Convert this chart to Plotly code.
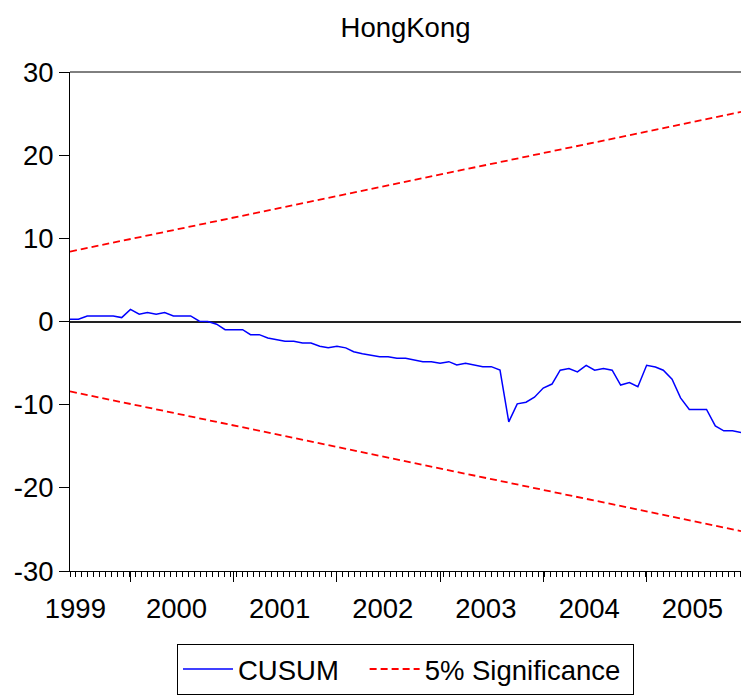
import pandas as pd
import plotly.graph_objects as go

# Monthly CUSUM statistic, June 1999 - December 2005
months = pd.date_range("1999-06-01", periods=79, freq="MS")
cusum = [
    0.27, 0.27, 0.67, 0.67, 0.67, 0.67, 0.47, 1.46, 0.87, 1.07,
    0.87, 1.07, 0.67, 0.67, 0.67, 0.03, 0.00, -0.32, -0.99, -0.99,
    -0.99, -1.58, -1.58, -1.98, -2.17, -2.38, -2.38, -2.58, -2.58, -2.97,
    -3.17, -2.97, -3.17, -3.64, -3.88, -4.08, -4.24, -4.24, -4.43, -4.43,
    -4.63, -4.83, -4.83, -5.03, -4.83, -5.23, -5.03, -5.23, -5.43, -5.43,
    -5.84, -12.07, -9.90, -9.70, -9.10, -8.00, -7.52, -5.86, -5.66, -6.06,
    -5.27, -5.86, -5.66, -5.86, -7.64, -7.33, -7.84, -5.27, -5.47, -5.86,
    -6.94, -9.19, -10.57, -10.57, -10.57, -12.55, -13.14, -13.14, -13.34,
]

# 5% significance bounds (straight lines between the first and last month)
band_dates = [months[0], months[-1]]
upper_band = [8.4, 25.2]
lower_band = [-8.4, -25.2]

# Axis labelling
year_labels = ["1999", "2000", "2001", "2002", "2003", "2004", "2005"]
year_label_dates = ["1999-06-20", "2000-06-12", "2001-06-12", "2002-06-12",
                    "2003-06-12", "2004-06-12", "2005-06-12"]
year_start_dates = ["2000-01-01", "2001-01-01", "2002-01-01",
                    "2003-01-01", "2004-01-01", "2005-01-01"]
small_tick_dates = pd.date_range("1999-06-01", "2005-12-01", freq="21D")
y_ticks = [-30, -20, -10, 0, 10, 20, 30]
y_labels = ["-30", "-20", "-10", "0", "10", "20", "30"]

FONT = "Liberation Sans, Arial, sans-serif"
FS = 27.5
x_range = ["1999-06-01", "2005-12-01"]
NBSP = "\u00a0"

fig = go.Figure()
fig.add_trace(go.Scatter(
    x=months, y=cusum, mode="lines", name="CUSUM" + NBSP * 2 + "\u2009",
    line=dict(color="#0000FF", width=1.5),
))
fig.add_trace(go.Scatter(
    x=band_dates, y=upper_band, mode="lines", name="5% Significance" + NBSP,
    line=dict(color="#FF0000", width=1.8, dash="7px,4px"),
))
fig.add_trace(go.Scatter(
    x=band_dates, y=lower_band, mode="lines", name="5% Significance",
    line=dict(color="#FF0000", width=1.8, dash="7px,4px"), showlegend=False,
))
# carrier for the secondary tick axis
fig.add_trace(go.Scatter(
    x=band_dates, y=[None, None], xaxis="x2", mode="lines",
    showlegend=False, hoverinfo="skip",
))

fig.update_layout(
    width=741, height=695,
    margin=dict(l=70, r=0, t=72, b=118),
    paper_bgcolor="white", plot_bgcolor="white",
    font=dict(family=FONT, size=FS, color="black"),
    title=dict(text="HongKong", x=0.5, xref="paper", y=1 - 27 / 695,
               yref="container", yanchor="middle", xanchor="center",
               font=dict(size=FS, color="black")),
    xaxis=dict(
        type="date", range=x_range, showgrid=False, zeroline=False,
        showline=True, linecolor="black", linewidth=1,
        tickmode="array", tickvals=year_label_dates, ticktext=year_labels,
        ticks="", ticklabelstandoff=13,
        minor=dict(tickmode="array", tickvals=year_start_dates, ticks="outside",
                   ticklen=10, tickwidth=1, tickcolor="black", showgrid=False),
    ),
    xaxis2=dict(
        type="date", range=x_range, overlaying="x", anchor="y", side="bottom",
        showgrid=False, zeroline=False, showline=False, showticklabels=False,
        tickmode="array", tickvals=list(small_tick_dates), ticks="outside",
        ticklen=5, tickwidth=1, tickcolor="black",
    ),
    yaxis=dict(
        range=[-30, 30], showgrid=False, showline=True, linecolor="black",
        linewidth=1, tickmode="array", tickvals=y_ticks, ticktext=y_labels,
        ticks="outside", ticklen=10, tickwidth=1, tickcolor="black",
        zeroline=True, zerolinecolor="#222222", zerolinewidth=2,
        ticklabelstandoff=0,
    ),
    legend=dict(
        orientation="h", x=0.5, xanchor="center", y=-0.1455, yanchor="top",
        bordercolor="black", borderwidth=1, bgcolor="white",
        font=dict(size=FS, color="black"), itemwidth=50,
    ),
    shapes=[dict(type="line", xref="paper", yref="paper", x0=0, x1=1, y0=1, y1=1,
                 line=dict(color="black", width=1))],
)

fig.write_html("out.html")
